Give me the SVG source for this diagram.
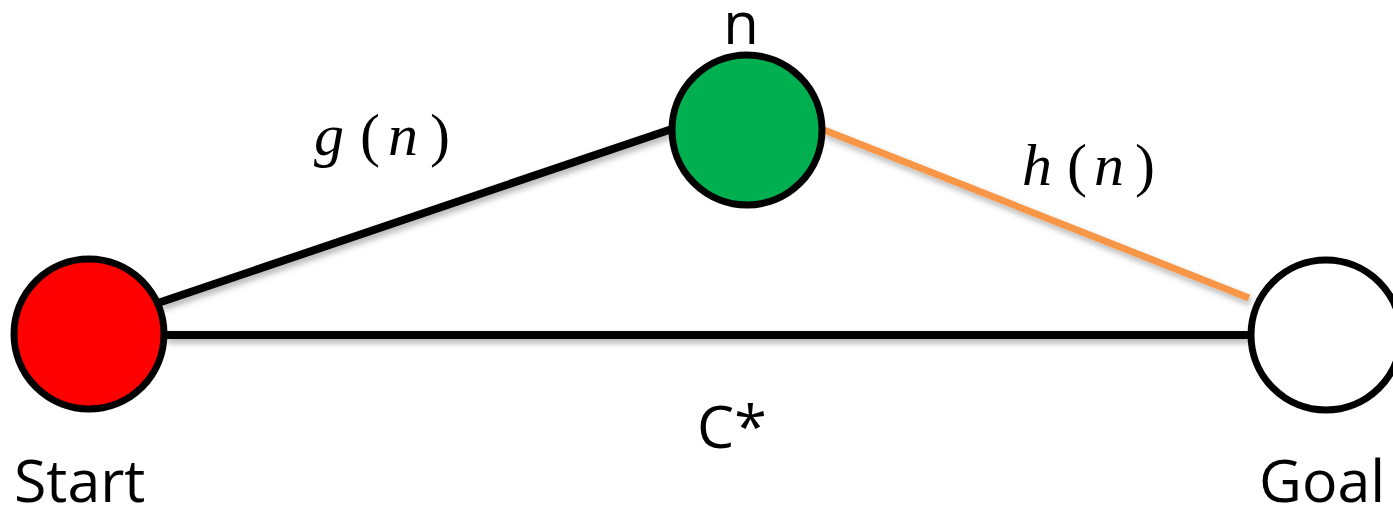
<svg xmlns="http://www.w3.org/2000/svg" width="1393" height="508" viewBox="0 0 1393 508">
<defs>
<filter id="sh" x="-5%" y="-50%" width="110%" height="200%">
<feDropShadow dx="2" dy="4" stdDeviation="3" flood-color="#000" flood-opacity="0.3"/>
</filter>
<style>
.node{stroke:#000;stroke-width:7}
.lbl{font-family:"Open Sans","Noto Sans",sans-serif;fill:#000}
.math{font-family:"Liberation Serif","DejaVu Serif",serif;font-size:60px;fill:#000}
.it{font-style:italic}
</style>
</defs>
<rect width="1393" height="508" fill="#fff"/>
<g id="connectors" filter="url(#sh)">
<line x1="158" y1="303" x2="672" y2="129" stroke="#000" stroke-width="8"/>
<line x1="165" y1="335" x2="1249" y2="335" stroke="#000" stroke-width="8"/>
<line x1="824" y1="130" x2="1249" y2="298" stroke="#F79646" stroke-width="7"/>
</g>
<g id="start">
<circle class="node" cx="89" cy="334" r="75" fill="#FF0000"/>
<text class="lbl" x="14" y="502" font-size="59">Start</text>
</g>
<g id="n">
<circle class="node" cx="747" cy="130" r="75" fill="#00B050"/>
<text class="lbl" x="741" y="44" font-size="58" text-anchor="middle">n</text>
</g>
<g id="goal">
<circle class="node" cx="1326" cy="335" r="75" fill="#FFFFFF"/>
<text class="lbl" x="1259" y="502" font-size="59">Goal</text>
</g>
<g id="labels">
<text class="math" y="155"><tspan class="it" x="314">g</tspan><tspan x="360">(</tspan><tspan class="it" x="388">n</tspan><tspan x="430">)</tspan></text>
<text class="math" y="185"><tspan class="it" x="1022">h</tspan><tspan x="1067">(</tspan><tspan class="it" x="1094">n</tspan><tspan x="1135">)</tspan></text>
<text class="lbl" x="697" y="448" font-size="59">C*</text>
</g>
</svg>
